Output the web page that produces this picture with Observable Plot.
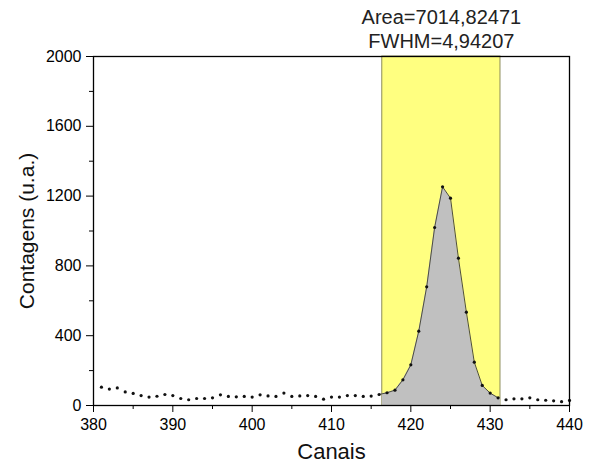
<!DOCTYPE html>
<html><head><meta charset="utf-8">
<script src="https://cdn.jsdelivr.net/npm/d3@7"></script>
<script src="https://cdn.jsdelivr.net/npm/@observablehq/plot@0.6"></script>
<style>body{margin:0;background:#fff} svg{display:block}</style>
</head><body><div id="chart"></div>
<script>
const channels = [381,382,383,384,385,386,387,388,389,390,391,392,393,394,395,396,397,398,399,400,
  401,402,403,404,405,406,407,408,409,410,411,412,413,414,415,416,417,418,419,420,
  421,422,423,424,425,426,427,428,429,430,431,432,433,434,435,436,437,438,439,440];
const counts = [105,94,101,78,69,57,48,53,63,57,40,33,40,40,44,61,52,50,52,48,
  61,55,52,71,52,55,57,52,36,48,48,57,57,52,54,63,73,88,147,233,
  426,680,1020,1253,1188,844,535,248,115,71,44,33,38,38,44,33,30,27,22,29];
const peakRange = [416.4, 431.3];
const annotation = ["Area=7014,82471", "FWHM=4,94207"];
const xTicks = [380,390,400,410,420,430,440];
const xMinorTicks = [385,395,405,415,425,435];
const yTicks = [0,400,800,1200,1600,2000];
const yMinorTicks = [200,600,1000,1400,1800];
const xLabel = "Canais";
const yLabel = "Contagens (u.a.)";

const data = channels.map((c, i) => ({c, n: counts[i]}));
const peakLine = data.filter(d => d.c >= 416 && d.c <= 431);
const peakArea = data.filter(d => d.c >= 415 && d.c <= 432);
const band = [{x1: peakRange[0], x2: peakRange[1], y1: yTicks[0], y2: yTicks[yTicks.length - 1]}];
const note = [{x: (peakRange[0] + peakRange[1]) / 2, y: yTicks[yTicks.length - 1], label: annotation.join("\n")}];

const font = "'Liberation Sans', Arial, Helvetica, sans-serif";
const plot = Plot.plot({
  width: 595, height: 466,
  marginLeft: 93, marginRight: 26, marginTop: 56, marginBottom: 61,
  style: {fontFamily: font, background: "white", color: "black"},
  x: {domain: [380, 440]},
  y: {domain: [0, 2000]},
  marks: [
    Plot.rect(band, {x1: "x1", x2: "x2", y1: "y1", y2: "y2", fill: "#ffff80", stroke: "#8c8c5a", strokeWidth: 1}),
    Plot.areaY(peakArea, {x: "c", y: "n", fill: "#c0c0c0"}),
    Plot.line(peakLine, {x: "c", y: "n", stroke: "#4d4d40", strokeWidth: 1}),
    Plot.dot(data, {x: "c", y: "n", r: 1.6, fill: "#111", stroke: "none"}),
    Plot.axisX(xMinorTicks, {tickSize: 4, tickFormat: () => "", label: null}),
    Plot.axisX(xTicks, {tickSize: 7, tickPadding: 6, fontSize: 16, tickFormat: d3.format("d"), label: null}),
    Plot.axisY(yMinorTicks, {tickSize: 4, tickFormat: () => "", label: null}),
    Plot.axisY(yTicks, {tickSize: 7, tickPadding: 5, fontSize: 16, tickFormat: d3.format("d"), label: null}),
    Plot.frame({stroke: "black", strokeWidth: 1.3}),
    Plot.text([xLabel], {frameAnchor: "bottom", dy: 53, lineAnchor: "bottom", fontSize: 22, fill: "#111"}),
    Plot.text([yLabel], {frameAnchor: "left", textAnchor: "middle", dx: -66, rotate: -90, lineAnchor: "middle", fontSize: 21, fill: "#111"}),
    Plot.text(note, {x: "x", y: "y", text: "label", lineAnchor: "bottom", dy: -9, fontSize: 20, lineHeight: 1.2, fill: "#222"})
  ]
});
document.getElementById("chart").appendChild(plot);
const sx = plot.scale("x");
const x1 = sx.apply(peakRange[0]), x2 = sx.apply(peakRange[1]);
const svg = d3.select(plot);
svg.append("defs").append("clipPath").attr("id", "bandclip")
  .append("rect").attr("x", x1).attr("y", 0).attr("width", x2 - x1).attr("height", 466);
svg.select('g[aria-label="area"]').attr("clip-path", "url(#bandclip)");
</script>
</body></html>
